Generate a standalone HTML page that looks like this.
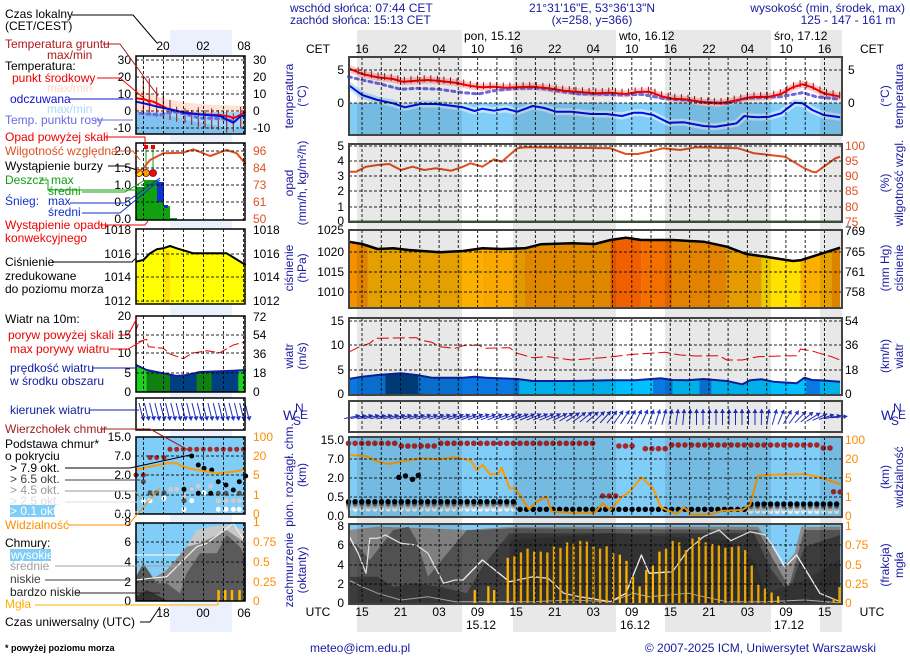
<!DOCTYPE html>
<html><head><meta charset="utf-8">
<style>
html,body{margin:0;padding:0;background:#fff;}
body{width:910px;height:660px;overflow:hidden;}
svg{display:block;font-family:"Liberation Sans",sans-serif;}
</style></head>
<body>
<svg id="s" width="910" height="660" viewBox="0 0 910 660" xmlns="http://www.w3.org/2000/svg"></svg>
<script>
var o=[];
function P(pts,tx,ty,sx,sy){return pts.map(function(p){return (tx+p[0]*sx).toFixed(1)+','+(ty+p[1]*sy).toFixed(1)}).join(' ');}
function M3(pts){return P(pts,300,0,0.388,1/3);}
function M6(pts){return P(pts,300,225,0.388,1/3);}
function M4(pts){return P(pts,300,420,0.388,1/3);}
function L1(pts){return P(pts,0,0,1/3,1/3);}
function L2(pts){return P(pts,0,330,1/3,1/3);}
function line(pts,col,w,extra){o.push('<polyline points="'+pts+'" fill="none" stroke="'+col+'" stroke-width="'+w+'" stroke-linejoin="round" '+(extra||'')+'/>');}
function poly(pts,col,extra){o.push('<polygon points="'+pts+'" fill="'+col+'" '+(extra||'')+'/>');}
function rect(x,y,w,h,c,extra){o.push('<rect x="'+x+'" y="'+y+'" width="'+w+'" height="'+h+'" fill="'+c+'" '+(extra||'')+'/>');}
function T(x,y,t,c,a,sz,extra){o.push('<text x="'+x+'" y="'+y+'" fill="'+(c||'#000')+'" font-size="'+(sz||12)+'" text-anchor="'+(a||'start')+'" '+(extra||'')+'>'+t+'</text>');}
function RT(x,y,t,c){o.push('<text x="'+x+'" y="'+y+'" fill="'+(c||'#1a1aa0')+'" font-size="12" text-anchor="middle" transform="rotate(-90 '+x+' '+y+')">'+t+'</text>');}
function ln(x1,y1,x2,y2,c,w,extra){o.push('<line x1="'+x1+'" y1="'+y1+'" x2="'+x2+'" y2="'+y2+'" stroke="'+c+'" stroke-width="'+(w||1)+'" '+(extra||'')+'/>');}
var NAVY='#1a1aa0';

rect(170,30,62,602,'#eaf1fd');

var X0=349,X1=842;
rect(X0,57,X1-X0,78,'#fff');
rect(X0,103,X1-X0,32,'#80cdf8');
var RED=[[125,205],[160,222],[200,232],[240,237],[265,245],[300,242],[330,240],[360,243],[400,248],[440,258],[470,262],[500,260],[530,263],[560,262],[600,260],[640,265],[680,272],[720,276],[760,280],[800,278],[840,282],[870,276],[900,275],[935,290],[960,296],[990,298],[1040,307],[1080,310],[1120,302],[1160,292],[1210,290],[1240,282],[1270,262],[1295,253],[1320,262],[1350,280],[1392,290]];
var BLU=[[125,255],[160,285],[200,300],[240,310],[270,322],[310,312],[350,312],[380,316],[420,322],[450,333],[470,326],[500,332],[530,326],[560,335],[600,318],[630,324],[660,335],[700,335],[750,342],[790,342],[830,348],[860,338],[880,338],[910,345],[950,368],[990,367],[1040,378],[1070,380],[1100,375],[1125,370],[1145,348],[1160,350],[1180,352],[1210,350],[1240,340],[1275,308],[1295,310],[1320,330],[1350,345],[1392,352]];
line(M3(RED),'#ffc8c8',7);
line(M3(BLU),'#c0e6ff',7);
(function(){
 function yAt(zx){for(var i=1;i<RED.length;i++){if(zx<=RED[i][0]){var a=RED[i-1],b=RED[i];return a[1]+(b[1]-a[1])*(zx-a[0])/(b[0]-a[0]);}}return 290;}
 for(var zx=150;zx<1392;zx+=17){var y=yAt(zx);var x=300+zx*0.388;ln(x.toFixed(1),(y/3-5).toFixed(1),x.toFixed(1),(y/3+2).toFixed(1),'#a01010',1);}
})();
line(M3([[125,230],[160,240],[200,250],[260,268],[300,265],[360,268],[420,278],[460,282],[500,272],[560,265],[620,265],[660,272],[720,282],[760,282],[830,285],[880,283],[935,295],[990,300],[1040,307],[1100,310],[1150,295],[1200,292],[1240,290],[1295,278],[1330,290],[1392,298]]),'#6a6ae0',3,'stroke-dasharray="3 4" stroke-linecap="round"');
line(M3(RED),'#f00000',2);
line(M3(BLU),'#0010e0',2);

rect(X0,144,X1-X0,78,'#fff');
line(M3([[125,515],[145,515],[170,500],[200,495],[230,492],[260,510],[290,500],[320,510],[350,505],[390,512],[420,500],[440,490],[470,500],[500,478],[520,485],[560,445],[580,442],[800,445],[840,462],[870,462],[900,455],[935,445],[980,450],[1020,442],[1130,445],[1170,460],[1210,465],[1250,470],[1300,505],[1320,515],[1330,517],[1350,500],[1380,475],[1392,470]]),'#e05020',2);
ln(X0,221,X1,221,'#10a010',1);

var pc=[[125,175,'#f59000'],[175,470,'#fbb000'],[470,580,'#f9a800'],[580,800,'#f79500'],[800,880,'#f06000'],[880,960,'#f37000'],[960,1100,'#f89000'],[1100,1190,'#fbac00'],[1190,1290,'#ffe000'],[1290,1370,'#fbb000'],[1370,1392,'#f59000']];
pc.forEach(function(c){rect((300+c[0]*0.388).toFixed(1),230,((c[1]-c[0])*0.388).toFixed(1),78,c[2]);});
var pl=[[125,50],[160,57],[200,72],[240,70],[280,75],[360,82],[420,78],[470,70],[520,72],[580,70],[620,58],[700,55],[760,57],[800,45],[840,38],[880,45],[960,45],[1040,50],[1100,65],[1150,87],[1200,95],[1270,108],[1290,106],[1392,68]];
poly(M6([[125,15]].concat(pl).concat([[1392,15]])),'#fff');
line(M6(pl),'#000',2.5);

rect(X0,318,X1-X0,77,'#fff');
var wl=[[125,462],[160,455],[200,450],[260,445],[300,450],[340,458],[420,458],[450,455],[480,458],[560,462],[600,468],[700,468],[800,466],[860,466],[930,460],[960,465],[1000,466],[1040,462],[1100,468],[1140,478],[1160,466],[1190,463],[1220,470],[1280,475],[1300,458],[1320,465],[1340,466],[1392,470]];
var wc=[[125,220,'#0a78e0'],[220,305,'#004080'],[305,565,'#0a78e0'],[565,910,'#00c0ff'],[910,960,'#0a78e0'],[960,1030,'#00c0ff'],[1030,1060,'#0a78e0'],[1060,1305,'#00c0ff'],[1305,1340,'#0a78e0'],[1340,1392,'#00c0ff']];
o.push('<clipPath id="wcl"><polygon points="'+M6([[125,510]].concat(wl).concat([[1392,510]]))+'"/></clipPath>');
o.push('<g clip-path="url(#wcl)">');
wc.forEach(function(c){rect((300+c[0]*0.388).toFixed(1),330,((c[1]-c[0])*0.388+0.5).toFixed(1),66,c[2]);});
o.push('</g>');
line(M6(wl),'#1020a0',2);
line(M6([[125,382],[150,367],[180,355],[195,340],[300,338],[310,345],[340,352],[360,365],[400,370],[420,362],[460,360],[475,370],[540,368],[560,385],[600,398],[640,395],[700,405],[780,398],[860,388],[940,382],[980,390],[1020,393],[1080,392],[1100,405],[1140,405],[1180,395],[1240,393],[1280,392],[1290,372],[1320,378],[1340,385],[1370,395],[1392,405]]),'#f00000',1,'stroke-dasharray="12 4"');

rect(X0,401,X1-X0,31,'#fff');
(function(){for(var i=0;i<76;i++){var x=352+i*6.5;var h=(x-362)/6.42;var ang;
 if(h<30)ang=12+h*0.4; else if(h<52)ang=24+(h-30)*3; else if(h<62)ang=90; else ang=90-(h-62)*7; if(ang<5)ang=5;
 var r=ang*Math.PI/180,L=8;var dx=Math.cos(r)*L,dy=Math.sin(r)*L;
 var x1=x-dx,y1=417+dy,x2=x+dx,y2=417-dy;
 ln(x1.toFixed(1),y1.toFixed(1),x2.toFixed(1),y2.toFixed(1),'#2030c0',1);
 var hx=x2-Math.cos(r)*4,hy=y2+Math.sin(r)*4,px=Math.sin(r)*2.5,py=Math.cos(r)*2.5;
 poly(x2.toFixed(1)+','+y2.toFixed(1)+' '+(hx+px).toFixed(1)+','+(hy+py).toFixed(1)+' '+(hx-px).toFixed(1)+','+(hy-py).toFixed(1),'#2030c0');}})();

rect(X0,437,X1-X0,80,'#80cdf8');
(function(){
 var zs=[];for(var zx=125;zx<=1392;zx+=17)zs.push(zx);
 zs.forEach(function(zx){var x=300+zx*0.388;var yr=null;
  if(zx<=770)yr=(zx>260&&zx<360)?78:70; else if(zx>=820&&zx<=870)yr=78; else if(zx>880&&zx<945)yr=86; else if(zx>=955&&zx<=1345)yr=75; else if(zx>1345&&zx<1370)yr=84;
  if(yr)o.push('<circle cx="'+x.toFixed(1)+'" cy="'+(420+yr/3).toFixed(1)+'" r="2.8" fill="#a82828"/>');
  var yb=(zx<560||zx>1150)?(zx<560?245:252):268;
  if(zx<560||zx>1150){o.push('<circle cx="'+x.toFixed(1)+'" cy="'+(420+(yb+22)/3).toFixed(1)+'" r="2.6" fill="#eee"/>');o.push('<circle cx="'+x.toFixed(1)+'" cy="'+(420+(yb+14)/3).toFixed(1)+'" r="2.6" fill="#bbb"/>');o.push('<circle cx="'+x.toFixed(1)+'" cy="'+(420+(yb+7)/3).toFixed(1)+'" r="2.6" fill="#666"/>');}
  o.push('<circle cx="'+x.toFixed(1)+'" cy="'+(420+yb/3).toFixed(1)+'" r="2.7" fill="#000"/>');
 });
 [[255,172],[272,168],[290,178],[305,166]].forEach(function(p){o.push('<circle cx="'+(300+p[0]*0.388).toFixed(1)+'" cy="'+(420+p[1]/3).toFixed(1)+'" r="2.7" fill="#000"/>');});
 [[780,228],[797,228],[814,228],[1375,215],[1392,216]].forEach(function(p){o.push('<circle cx="'+(300+p[0]*0.388).toFixed(1)+'" cy="'+(420+p[1]/3).toFixed(1)+'" r="2.7" fill="#a82828"/>');});
})();
line(M4([[125,105],[170,108],[200,125],[230,132],[270,122],[320,115],[360,118],[400,112],[440,122],[455,150],[470,135],[490,163],[510,162],[520,143],[540,205],[555,205],[590,268],[610,245],[635,230],[650,275],[700,278],[760,278],[780,250],[800,270],[830,230],[850,215],[880,172],[910,205],[930,262],[970,282],[990,262],[1010,284],[1060,282],[1090,272],[1140,270],[1160,255],[1180,168],[1200,165],[1300,162],[1340,172],[1392,192]]),'#ff9a00',2);

rect(X0,524,X1-X0,80,'#80cdf8');
poly(M4([[125,330],[200,320],[330,325],[430,330],[540,320],[1180,320],[1215,375],[1245,440],[1275,400],[1292,320],[1392,320],[1392,550],[125,550]]),'#8c8c8c');
poly(M4([[125,360],[150,380],[180,420],[240,330],[280,320],[300,360],[330,470],[380,400],[430,330],[460,330],[540,325],[1180,330],[1220,420],[1260,500],[1300,330],[1392,330],[1392,550],[125,550]]),'#5a5a5a');
poly(M4([[125,470],[200,470],[240,500],[300,490],[360,500],[430,520],[470,440],[540,340],[1170,340],[1210,440],[1260,520],[1300,380],[1392,345],[1392,550],[125,550]]),'#3c3c3c');
poly(M4([[540,360],[800,340],[1100,360],[1170,420],[1200,520],[1300,480],[1392,420],[1392,550],[540,550]]),'#333');
line(M4([[125,480],[160,500],[200,520],[260,540],[330,530],[400,545],[520,545],[600,545],[700,540],[800,545],[860,520],[900,530],[1000,520],[1100,545],[1200,545],[1300,540],[1392,548]]),'#b0b0b0',1);
line(M4([[125,345],[150,400],[170,460],[180,355],[200,355],[220,345],[260,370],[300,375],[330,400],[370,490],[400,480],[420,480],[470,420],[540,485],[600,470],[640,475],[680,520],[720,530],[800,545],[840,520],[880,405],[900,460],[960,455],[1000,390],[1040,350],[1080,330],[1110,362],[1160,335],[1200,345],[1230,400],[1250,440],[1280,405],[1340,520],[1392,545]]),'#f0f0f0',1.3);
(function(){var b=[[450,.18],[485,.23],[500,.18],[535,.6],[552,.62],[569,.67],[586,.72],[603,.68],[620,.68],[637,.67],[654,.75],[671,.73],[688,.8],[705,.78],[722,.82],[739,.81],[756,.75],[773,.72],[790,.75],[807,.66],[824,.64],[841,.56],[858,.35],[875,.23],[892,.44],[909,.5],[926,.68],[943,.72],[960,.82],[977,.8],[994,.7],[1011,.85],[1028,.87],[1045,.8],[1062,.78],[1079,.76],[1096,.73],[1113,.74],[1130,.75],[1147,.7],[1164,.5],[1181,.25],[1198,.2],[1215,.15],[1232,.1],[1249,.02],[1360,.02],[1375,.07],[1390,.22]];
 b.forEach(function(p){var x=300+p[0]*0.388;var h=p[1]*77;rect((x-1).toFixed(1),(604-h).toFixed(1),2.3,h.toFixed(1),'#ffb400');});})();

var LX0=136,LX1=245;
rect(LX0,56,LX1-LX0,78,'#fff');
poly(L1([[408,265],[440,280],[500,298],[560,308],[640,315],[737,318],[737,335],[408,335]]),'#ffe2d4');
rect(LX0,112,LX1-LX0,22,'#9fd6fb');
poly(L1([[408,335],[500,345],[560,360],[640,375],[700,390],[737,380],[737,400],[408,400]]),'#7fc2f0');
[[430,230,340],[448,235,345],[470,262,350],[490,280,355],[510,300,360],[530,320,365],[555,325,370],[575,330,375],[595,322,380],[615,330,385],[635,325,388],[655,330,390],[680,335,398],[700,340,395],[722,320,385]].forEach(function(p){ln((p[0]/3).toFixed(1),(p[1]/3).toFixed(1),(p[0]/3).toFixed(1),(p[2]/3).toFixed(1),'#a01010',1);});
line(L1([[420,340],[440,342],[480,345],[520,335],[560,343],[600,355],[640,355],[680,358],[700,365]]),'#6a6ae0',3,'stroke-dasharray="3 4" stroke-linecap="round"');
line(L1([[408,295],[430,298],[460,305],[500,325],[540,335],[600,343],[660,345],[690,350],[700,355],[720,345],[737,335]]),'#f00000',2);
line(L1([[408,305],[440,312],[480,322],[520,330],[560,340],[620,345],[660,348],[700,368],[720,350],[737,345]]),'#0010e0',2);
rect(LX0,143,LX1-LX0,77,'#fff');
rect(136,187,8,33,'#10a010');rect(144,180,14,40,'#10a010');rect(157,185,7,35,'#10a010');rect(164,206,6,14,'#10a010');rect(170,218,7,2,'#10a010');
rect(157,182,7,20,'#1030d0');rect(164,205,4,3,'#1030d0');
ln(146,147,146,175,'#10a010');ln(153,147,153,175,'#10a010');
rect(144,145,4,4,'#f00000');rect(151,145,4,4,'#f00000');
o.push('<circle cx="139" cy="173" r="3.5" fill="#ffe000" stroke="#800" stroke-width="0.8"/><circle cx="146" cy="173" r="3.5" fill="#f0a000" stroke="#800" stroke-width="0.8"/><circle cx="153" cy="173" r="3.5" fill="#e01010" stroke="#800" stroke-width="0.8"/>');
line(L1([[408,520],[430,505],[450,480],[490,460],[550,458],[580,448],[630,468],[680,450],[710,460],[737,492]]),'#e05020',2);
rect(LX0,229,LX1-LX0,75,'#fff');
poly(L1([[408,785],[430,780],[450,760],[470,748],[490,745],[510,738],[530,745],[580,760],[680,760],[737,795],[737,912],[408,912]]),'#ffff00');
rect(163,250,7,54,'#ffd000','opacity="0.6"');
line(L1([[408,785],[430,780],[450,760],[470,748],[490,745],[510,738],[530,745],[580,760],[680,760],[737,795]]),'#000',2);
rect(LX0,316,LX1-LX0,76,'#fff');
var lw=[[408,105],[440,120],[500,132],[530,138],[560,135],[600,126],[700,122],[737,120]];
o.push('<clipPath id="lwc"><polygon points="'+L2(lw.concat([[737,187],[408,187]]))+'"/></clipPath><g clip-path="url(#lwc)">');
[[408,440,'#20d020'],[440,510,'#108010'],[510,590,'#004080'],[590,635,'#108010'],[635,715,'#004080'],[715,737,'#20d020']].forEach(function(c){rect((c[0]/3).toFixed(1),360,((c[1]-c[0])/3+0.4).toFixed(1),33,c[2]);});
o.push('</g>');
line(L2(lw),'#1020a0',2);
line(L2([[408,0],[415,-18]]),'#f00000',1);
line(L2([[415,35],[440,28],[445,50],[490,55],[510,72],[550,86],[575,70],[620,62],[660,68],[700,45],[737,35]]),'#f00000',1,'stroke-dasharray="10 3"');
rect(LX0,398,LX1-LX0,32,'#fff');
for(var i=0;i<21;i++){var x=139+i*5.3;ln(x.toFixed(1),'403',(x+4).toFixed(1),'419','#2030c0',1);poly((x+4.5).toFixed(1)+',421 '+(x+1.5).toFixed(1)+',417 '+(x+6.5).toFixed(1)+',416','#2030c0');}
rect(LX0,437,LX1-LX0,77,'#80cdf8');
[[408,435],[430,435]].forEach(function(p){o.push('<circle cx="'+(p[0]/3)+'" cy="'+(330+p[1]/3)+'" r="2.5" fill="#a82828"/>');});
[450,470,492].forEach(function(x){o.push('<circle cx="'+(x/3)+'" cy="'+(330+383/3)+'" r="2.5" fill="#a82828"/>');});
for(var zx=510;zx<=737;zx+=20)o.push('<circle cx="'+(zx/3).toFixed(1)+'" cy="'+(330+358/3).toFixed(1)+'" r="2.5" fill="#a82828"/>');
[[575,378],[595,405],[612,415],[635,420],[655,455],[678,465],[718,455],[737,438],[552,478],[575,478],[595,490],[632,490],[700,480]].forEach(function(p){o.push('<circle cx="'+(p[0]/3).toFixed(1)+'" cy="'+(330+p[1]/3).toFixed(1)+'" r="2.5" fill="#000"/>');});
[[430,455],[450,488],[470,488],[492,488],[552,512],[655,490],[678,490],[718,490]].forEach(function(p){o.push('<circle cx="'+(p[0]/3).toFixed(1)+'" cy="'+(330+p[1]/3).toFixed(1)+'" r="2.5" fill="#555"/>');});
[[512,478],[530,478],[552,498],[575,478],[595,468],[632,468],[655,512],[678,512],[700,512],[718,512]].forEach(function(p){o.push('<circle cx="'+(p[0]/3).toFixed(1)+'" cy="'+(330+p[1]/3).toFixed(1)+'" r="2.5" fill="#ccc"/>');});
[[430,512],[450,512],[492,505],[575,512],[612,488],[655,538],[678,538],[700,538],[718,538],[552,538]].forEach(function(p){o.push('<circle cx="'+(p[0]/3).toFixed(1)+'" cy="'+(330+p[1]/3).toFixed(1)+'" r="2.5" fill="#fff"/>');});
line(L2([[408,420],[440,412],[500,400],[530,400],[550,410],[580,418],[650,430],[700,425],[737,418]]),'#ff9a00',2);
rect(LX0,523,LX1-LX0,78,'#80cdf8');
poly(L2([[408,740],[430,700],[460,745],[520,720],[560,650],[590,600],[630,590],[680,585],[737,600],[737,812],[408,812]]),'#c8c8c8');
poly(L2([[408,740],[430,700],[460,745],[500,720],[560,650],[600,640],[640,620],[680,600],[737,640],[737,812],[408,812]]),'#8a8a8a');
poly(L2([[408,740],[430,700],[470,760],[500,760],[540,790],[560,730],[600,670],[650,670],[680,615],[720,650],[737,680],[737,812],[408,812]]),'#5a5a5a');
poly(L2([[408,800],[440,780],[480,800],[500,812],[408,812]]),'#333');
line(L2([[408,750],[450,745],[500,740],[560,680],[590,650],[620,640],[660,610],[700,580],[737,640]]),'#f0f0f0',1.2);
[655,675,695,718].forEach(function(x){rect((x/3-1).toFixed(1),(330+780/3).toFixed(1),2.5,(32/3).toFixed(1),'#ffb400');});

function hgrid(x0,x1,ys){ys.forEach(function(y){ln(x0,y,x1,y,'#000',1,'stroke-dasharray="3 2" opacity="0.85"');});}
function vgrid(xs,y0,y1){xs.forEach(function(x){ln(x,y0,x,y1,'#000',1,'stroke-dasharray="3 2" opacity="0.85"');});}
var mxs=[];for(var x=362;x<X1;x+=19.27)mxs.push(x.toFixed(1));
var mp=[[57,135,[70,103]],[144,222,[146,161,176,191,207]],[230,308,[252,272,292]],[318,395,[321,345,370]],[401,432,[]],[437,517,[459,478,497]],[524,604,[545,565,584]]];
mp.forEach(function(p){vgrid(mxs,p[0],p[1]);hgrid(X0,X1,p[2]);});
var lxs=[143.5,163.5,183.5,203.5,223.5,243.5];
var lp=[[56,134,[60,77,94,111,128]],[143,220,[151,168,185,202]],[229,304,[254,277,301]],[316,392,[335,353,373]],[398,430,[]],[437,514,[456,475,495]],[523,601,[542,562,582]]];
lp.forEach(function(p){vgrid(lxs,p[0],p[1]);hgrid(LX0,LX1,p[2]);});

[[357,462],[513,616],[665,771],[820,842]].forEach(function(b){rect(b[0],30,b[1]-b[0],602,'#000','opacity="0.09"');});

mp.forEach(function(p){rect(X0,p[0],X1-X0,p[1]-p[0],'none','stroke="#444" stroke-width="2"');});
lp.forEach(function(p){rect(LX0,p[0],LX1-LX0,p[1]-p[0],'none','stroke="#000" stroke-width="1.5"');});

T(290,12,'wschód słońca: 07:44 CET',NAVY);T(290,24,'zachód słońca: 15:13 CET',NAVY);
T(592,12,'21°31\'16"E, 53°36\'13"N',NAVY,'middle');T(592,24,'(x=258, y=366)',NAVY,'middle');
T(905,12,'wysokość (min, środek, max)',NAVY,'end');T(848,24,'125 - 147 - 161 m',NAVY,'middle');
T(464,40,'pon, 15.12');T(619,40,'wto, 16.12');T(774,40,'śro, 17.12');
T(318,53,'CET','#000','middle');T(872,53,'CET','#000','middle');
var ch=['16','22','04','10','16','22','04','10','16','22','04','10','16'];
var uh=['15','21','03','09','15','21','03','09','15','21','03','09','15'];
for(var i=0;i<13;i++){var x=(362+i*38.55).toFixed(1);T(x,53,ch[i],'#000','middle');T(x,616,uh[i],'#000','middle');}
T(318,616,'UTC','#000','middle');T(872,616,'UTC','#000','middle');
T(481,629,'15.12','#000','middle');T(635,629,'16.12','#000','middle');T(789,629,'17.12','#000','middle');
T(310,652,'meteo@icm.edu.pl',NAVY);T(876,652,'© 2007-2025 ICM, Uniwersytet Warszawski',NAVY,'end');
function TL(arr,x,c,a){arr.forEach(function(p){T(x,p[1]+4,p[0],c||'#000',a||'end');});}
TL([['5',70],['0',103]],344);TL([['5',70],['0',103]],848,'#000','start');
TL([['5',146],['4',161],['3',176],['2',191],['1',207],['0',221]],344);
TL([['100',146],['95',161],['90',176],['85',191],['80',207],['75',222]],845,'#e05020','start');
TL([['1025',230],['1020',252],['1015',272],['1010',292]],344);
TL([['769',231],['765',252],['761',272],['758',292]],845,'#000','start');
TL([['15',321],['10',345],['5',370],['0',394]],344);
TL([['54',321],['36',345],['18',370],['0',394]],845,'#000','start');
TL([['15.0',440],['7.0',459],['2.0',478],['0.5',497],['0.0',516]],344);
TL([['100',440],['20',459],['5',478],['1',497],['0',516]],845,'#ff8c00','start');
TL([['8',526],['6',545],['4',565],['2',584],['0',603]],344);
TL([['1',526],['0.75',545],['0.5',565],['0.25',584],['0',603]],845,'#ff8c00','start');
RT(293,96,'temperatura');RT(306,96,'(°C)');
RT(293,183,'opad');RT(306,183,'(mm/h, kg/m²/h)');
RT(293,268,'ciśnienie');RT(306,268,'(hPa)');
RT(293,356,'wiatr');RT(306,356,'(m/s)');
RT(293,475,'pion. rozciągł. chm.');RT(306,475,'(km)');
RT(293,570,'zachmurzenie');RT(306,570,'(oktanty)');
RT(889,96,'(°C)');RT(903,96,'temperatura');
RT(889,183,'(%)');RT(903,183,'wilgotność wzgl.');
RT(889,268,'(mm Hg)');RT(903,268,'ciśnienie');
RT(889,356,'(km/h)');RT(903,356,'wiatr');
RT(889,477,'(km)');RT(903,477,'widzialność');
RT(889,565,'(frakcja)');RT(903,565,'mgła');
function comp(x,y){T(x,y+6,'W',NAVY,'start',14);T(x+12,y-2,'N',NAVY,'start',12);T(x+10,y+11,'S',NAVY,'start',12);T(x+17,y+5,'E',NAVY,'start',12);}
comp(283,414);comp(881,414);
TL([['30',60],['20',77],['10',94],['0',111],['-10',128]],131);TL([['30',60],['20',77],['10',94],['0',111],['-10',128]],253,'#000','start');
TL([['2.0',151],['1.5',168],['1.0',185],['0.5',202],['0.0',219]],131);
TL([['96',151],['84',168],['73',185],['61',202],['50',219]],253,'#e05020','start');
TL([['1018',230],['1016',254],['1014',277],['1012',301]],131);TL([['1018',230],['1016',254],['1014',277],['1012',301]],253,'#000','start');
TL([['20',316],['15',335],['10',353],['5',373],['0',392]],131);TL([['72',317],['54',335],['36',354],['18',373],['0',392]],253,'#000','start');
TL([['15.0',437],['7.0',456],['2.0',475],['0.5',495],['0.0',514]],131);
TL([['100',437],['20',456],['5',475],['1',495],['0',514]],253,'#ff8c00','start');
TL([['8',522],['6',542],['4',562],['2',582],['0',601]],131);
TL([['1',522],['0.75',542],['0.5',562],['0.25',582],['0',601]],253,'#ff8c00','start');
T(163,50,'20','#000','middle');T(203,50,'02','#000','middle');T(244,50,'08','#000','middle');
T(163,617,'18','#000','middle');T(203,617,'00','#000','middle');T(244,617,'06','#000','middle');
T(5,18,'Czas lokalny');T(5,30,'(CET/CEST)');
T(5,48,'Temperatura gruntu','#b01818');T(47,59,'max/min','#b01818');
T(5,70,'Temperatura:');T(12,82,'punkt środkowy','#f00000');T(47,92,'max/min','#ffd8c8');
T(10,103,'odczuwana','#1010d0');T(47,113,'max/min','#a8dcff');
T(5,124,'Temp. punktu rosy','#6a6ae0');
T(5,141,'Opad powyżej skali','#f00000');T(5,155,'Wilgotność względna','#e05020');
T(5,170,'Wystąpienie burzy');T(5,184,'Deszcz: max','#10a010');T(48,195,'średni','#10a010');
T(5,205,'Śnieg:','#1030d0');T(48,205,'max','#1030d0');T(48,216,'średni','#1030d0');
T(5,229,'Wystąpienie opadu','#f00000');T(5,242,'konwekcyjnego','#f00000');
T(5,266,'Ciśnienie');T(5,280,'zredukowane');T(5,293,'do poziomu morza');
T(5,323,'Wiatr na 10m:');
T(8,339,'poryw powyżej skali','#f00000');T(10,353,'max porywy wiatru','#f00000');
T(10,372,'prędkość wiatru','#1020a0');T(10,385,'w środku obszaru','#1020a0');
T(10,414,'kierunek wiatru','#1020a0');T(5,433,'Wierzchołek chmur','#a02020');
T(5,448,'Podstawa chmur*');T(5,460,'o pokryciu');
T(10,472,'> 7.9 okt.');T(10,483,'> 6.5 okt.','#404040');T(10,494,'> 4.5 okt.','#999');T(10,505,'> 2.5 okt.','#ddd');
rect(10,505,45,12,'#80cdf8');T(10,515,'> 0.1 okt.','#fff');
T(5,529,'Widzialność','#ff8c00');T(5,547,'Chmury:');
rect(10,549,41,12,'#80cdf8');T(11,559,'wysokie','#fff');
T(10,570,'średnie','#a0a0a0');T(10,583,'niskie','#404040');T(10,596,'bardzo niskie','#202020');
T(5,608,'Mgła','#ffb000');T(5,626,'Czas uniwersalny (UTC)');
T(5,651,'* powyżej poziomu morza','#000','start',9,'font-weight="bold"');
function cl(pts,c){line(pts.map(function(p){return p[0]+','+p[1]}).join(' '),c,1);}
cl([[72,15],[133,15],[157,43]],'#000');
cl([[103,44],[120,44],[158,96]],'#a02020');
cl([[97,78],[120,78],[152,105]],'#f00000');
cl([[70,99],[133,99]],'#1010d0');
cl([[95,120],[133,120]],'#6a6ae0');
cl([[105,137],[145,137],[145,145]],'#f00000');
cl([[118,151],[133,151],[140,160]],'#e05020');
cl([[108,166],[125,166],[137,170]],'#000');
cl([[40,180],[48,180],[48,190],[140,190]],'#10a010');
cl([[82,192],[125,192],[145,180]],'#10a010');
cl([[70,203],[125,203],[160,178]],'#1030d0');
cl([[82,213],[120,213],[160,180]],'#1030d0');
cl([[100,225],[145,225],[148,221]],'#f00000');
cl([[52,262],[132,262],[136,258]],'#000');
cl([[118,335],[128,335],[137,318]],'#f00000');
cl([[110,349],[128,349],[144,340]],'#f00000');
cl([[92,368],[136,368]],'#1020a0');
cl([[90,410],[139,410]],'#1020a0');
cl([[100,429],[150,429],[190,451]],'#a02020');
cl([[65,468],[130,468],[190,455]],'#000');
cl([[65,480],[140,480]],'#404040');
cl([[65,491],[135,491],[142,500]],'#999');
cl([[65,502],[138,502]],'#ddd');
cl([[56,512],[138,512]],'#fff');
cl([[68,525],[128,525],[160,488]],'#ff8c00');
cl([[52,555],[180,555]],'#fff');
cl([[55,566],[180,566]],'#a0a0a0');
cl([[45,580],[130,580]],'#404040');
cl([[75,593],[160,593]],'#202020');
cl([[35,605],[218,605],[218,590]],'#ffb000');
cl([[140,622],[150,622],[160,607]],'#000');

document.getElementById('s').innerHTML=o.join('');
</script>
</body></html>
